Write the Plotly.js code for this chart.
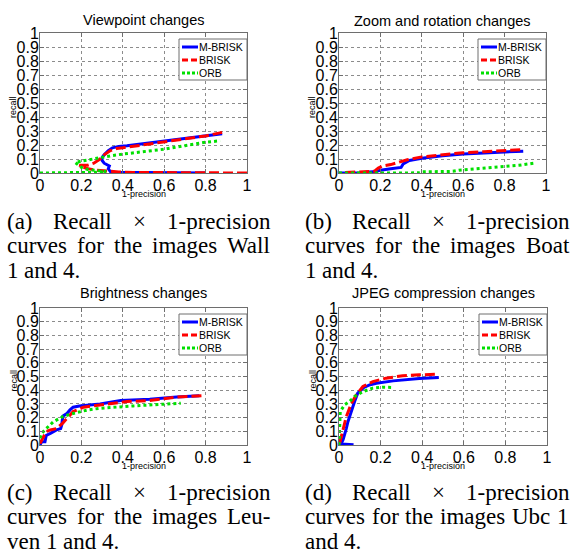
<!DOCTYPE html>
<html>
<head>
<meta charset="utf-8">
<script src="https://cdn.plot.ly/plotly-3.0.1.min.js"></script>
<style>html,body{margin:0;padding:0;background:#fff;}#chart{width:572px;height:554px;}</style>
</head>
<body>
<div id="chart"></div>
<script>
// ---------- data ----------
const seriesNames = ["M-BRISK", "BRISK", "ORB"];
const panelTitles = ["Viewpoint changes", "Zoom and rotation changes", "Brightness changes", "JPEG compression changes"];
const xTickVals = [0, 0.2, 0.4, 0.6, 0.8, 1];
const yTickVals = [0, 0.1, 0.2, 0.3, 0.4, 0.5, 0.6, 0.7, 0.8, 0.9, 1];
const xAxisLabel = "1-precision";
const yAxisLabel = "recall";

// (a) Viewpoint (Wall 1 and 4)
const wallMBriskX = [0.8, 0.6, 0.45, 0.36, 0.34, 0.33, 0.335, 0.32, 0.31, 0.30, 0.30, 0.31, 0.33, 0.35, 0.38, 0.42, 0.5, 0.55, 0.6, 0.7, 0.8, 0.88];
const wallMBriskY = [0, 0.001, 0.002, 0.005, 0.01, 0.03, 0.05, 0.06, 0.07, 0.09, 0.11, 0.13, 0.16, 0.18, 0.19, 0.195, 0.21, 0.22, 0.23, 0.245, 0.265, 0.28];
const wallBriskX = [1.0, 0.8, 0.6, 0.45, 0.38, 0.32, 0.27, 0.22, 0.19, 0.23, 0.26, 0.29, 0.31, 0.34, 0.37, 0.4, 0.5, 0.6, 0.7, 0.8, 0.88];
const wallBriskY = [0, 0, 0.002, 0.004, 0.008, 0.012, 0.02, 0.035, 0.055, 0.055, 0.07, 0.1, 0.13, 0.16, 0.175, 0.18, 0.2, 0.225, 0.245, 0.265, 0.29];
const wallOrbX = [0, 0.1, 0.2, 0.27, 0.32, 0.28, 0.23, 0.2, 0.18, 0.17, 0.2, 0.25, 0.3, 0.35, 0.4, 0.5, 0.6, 0.7, 0.8, 0.87];
const wallOrbY = [0, 0, 0.001, 0.005, 0.01, 0.015, 0.025, 0.04, 0.06, 0.075, 0.085, 0.1, 0.115, 0.125, 0.135, 0.15, 0.17, 0.195, 0.22, 0.23];

// (b) Zoom and rotation (Boat 1 and 4)
const boatMBriskX = [0, 0.1, 0.18, 0.2, 0.25, 0.3, 0.31, 0.34, 0.4, 0.5, 0.6, 0.7, 0.8, 0.89];
const boatMBriskY = [0, 0.002, 0.01, 0.02, 0.03, 0.04, 0.065, 0.09, 0.105, 0.123, 0.135, 0.145, 0.15, 0.155];
const boatBriskX = [0.03, 0.1, 0.17, 0.19, 0.21, 0.25, 0.3, 0.33, 0.4, 0.5, 0.6, 0.7, 0.8, 0.89];
const boatBriskY = [0.004, 0.006, 0.012, 0.035, 0.05, 0.06, 0.08, 0.095, 0.115, 0.13, 0.145, 0.152, 0.16, 0.168];
const boatOrbX = [0, 0.2, 0.39, 0.4, 0.5, 0.55, 0.58, 0.7, 0.8, 0.87, 0.94];
const boatOrbY = [0, 0, 0.001, 0.008, 0.009, 0.012, 0.02, 0.033, 0.045, 0.055, 0.07];

// (c) Brightness (Leuven 1 and 4)
const leuvenMBriskX = [0, 0.008, 0.024, 0.03, 0.05, 0.08, 0.10, 0.105, 0.11, 0.13, 0.145, 0.16, 0.19, 0.29, 0.39, 0.53, 0.66, 0.77];
const leuvenMBriskY = [0, 0.024, 0.024, 0.07, 0.085, 0.11, 0.12, 0.146, 0.21, 0.23, 0.256, 0.276, 0.285, 0.30, 0.324, 0.334, 0.35, 0.36];
const leuvenBriskX = [0, 0.016, 0.03, 0.05, 0.08, 0.11, 0.13, 0.16, 0.21, 0.29, 0.42, 0.53, 0.66, 0.78];
const leuvenBriskY = [0.01, 0.06, 0.098, 0.11, 0.12, 0.16, 0.195, 0.244, 0.276, 0.293, 0.317, 0.324, 0.35, 0.36];
const leuvenOrbX = [0, 0.008, 0.03, 0.065, 0.11, 0.16, 0.23, 0.29, 0.45, 0.61, 0.68];
const leuvenOrbY = [0.05, 0.085, 0.12, 0.17, 0.207, 0.23, 0.256, 0.268, 0.285, 0.298, 0.305];

// (d) JPEG compression (Ubc 1 and 4)
const ubcMBriskX = [0.07, 0.04, 0.01, 0.02, 0.027, 0.035, 0.043, 0.06, 0.075, 0.09, 0.12, 0.15, 0.18, 0.26, 0.32, 0.386, 0.48];
const ubcMBriskY = [0.002, 0.006, 0.008, 0.04, 0.073, 0.12, 0.17, 0.256, 0.317, 0.378, 0.42, 0.44, 0.45, 0.468, 0.478, 0.485, 0.493];
const ubcBriskX = [0.003, 0.02, 0.035, 0.06, 0.083, 0.115, 0.163, 0.226, 0.306, 0.386, 0.48];
const ubcBriskY = [0.012, 0.11, 0.207, 0.305, 0.366, 0.427, 0.463, 0.488, 0.505, 0.512, 0.517];
const ubcOrbX = [0, 0.003, 0.006, 0.027, 0.05, 0.075, 0.115, 0.163, 0.21, 0.26];
const ubcOrbY = [0, 0.195, 0.244, 0.293, 0.317, 0.354, 0.39, 0.415, 0.422, 0.42];

// captions
const captionA = ["(a) Recall × 1-precision", "curves for the images Wall", "1 and 4."];
const captionB = ["(b) Recall × 1-precision", "curves for the images Boat", "1 and 4."];
const captionC = ["(c) Recall × 1-precision", "curves for the images Leu-", "ven 1 and 4."];
const captionD = ["(d) Recall × 1-precision", "curves for the images Ubc 1", "and 4."];

// ---------- layout constants ----------
const W = 572, H = 554;
const SANS = "Liberation Sans, Arial, sans-serif";
const SERIF = "Liberation Serif, Times New Roman, serif";
const colors = ["#0000ff", "#ff0000", "#00e000"];
const dashes = ["solid", "10px,4px", "3px,3px"];
const panels = [
  {l: 40, r: 247, t: 33, b: 173, titleY: 20, xs: [wallMBriskX, wallBriskX, wallOrbX], ys: [wallMBriskY, wallBriskY, wallOrbY], cap: captionA, capX0: 7, capX1: 270, capY: 221},
  {l: 339, r: 546, t: 33, b: 173, titleY: 21, xs: [boatMBriskX, boatBriskX, boatOrbX], ys: [boatMBriskY, boatBriskY, boatOrbY], cap: captionB, capX0: 305, capX1: 569, capY: 221},
  {l: 40, r: 247, t: 308, b: 445, titleY: 293, xs: [leuvenMBriskX, leuvenBriskX, leuvenOrbX], ys: [leuvenMBriskY, leuvenBriskY, leuvenOrbY], cap: captionC, capX0: 7, capX1: 270, capY: 492},
  {l: 339, r: 547, t: 308, b: 445, titleY: 293, xs: [ubcMBriskX, ubcBriskX, ubcOrbX], ys: [ubcMBriskY, ubcBriskY, ubcOrbY], cap: captionD, capX0: 305, capX1: 569, capY: 492}
];
const capLineGap = 24.5;
const PX = x => x / W;
const PY = y => 1 - y / H;

const canvas = document.createElement("canvas");
const ctx = canvas.getContext("2d");
ctx.font = '23px "Liberation Serif"';
const measure = s => ctx.measureText(s).width;

const traces = [];
const annotations = [];
const shapes = [];
const layout = {
  width: W, height: H,
  margin: {l: 0, r: 0, t: 0, b: 0},
  paper_bgcolor: "#fff", plot_bgcolor: "#fff",
  showlegend: false,
  font: {family: SANS, color: "#000"}
};

panels.forEach((p, i) => {
  const k = i === 0 ? "" : String(i + 1);
  const axBase = {
    range: [0, 1], showgrid: true, gridcolor: "#8c8c8c", griddash: "dot", gridwidth: 1,
    showline: true, linecolor: "#6e6e6e", linewidth: 1, mirror: "ticks",
    ticks: "inside", ticklen: 4, tickcolor: "#6e6e6e", zeroline: false,
    tickfont: {family: SANS, size: 16, color: "#000"}, fixedrange: true
  };
  layout["xaxis" + k] = Object.assign({}, axBase, {
    domain: [PX(p.l), PX(p.r)], anchor: "y" + k, tickmode: "array", tickvals: xTickVals,
    ticktext: xTickVals.map(String), ticklabelstandoff: -2
  });
  layout["yaxis" + k] = Object.assign({}, axBase, {
    domain: [PY(p.b), PY(p.t)], anchor: "x" + k, tickmode: "array", tickvals: yTickVals,
    ticktext: yTickVals.map(String), ticklabelstandoff: -3
  });

  for (let s = 0; s < 3; s++) {
    traces.push({
      type: "scatter", mode: "lines", name: seriesNames[s],
      x: p.xs[s], y: p.ys[s], xaxis: "x" + k, yaxis: "y" + k,
      line: {color: colors[s], width: 3, dash: dashes[s]}, showlegend: false
    });
  }

  // panel title
  annotations.push({xref: "paper", yref: "paper", x: PX((p.l + p.r) / 2), y: PY(p.titleY),
    xanchor: "center", yanchor: "middle", showarrow: false, text: panelTitles[i],
    font: {family: SANS, size: 14.5, color: "#000"}});
  // axis labels
  annotations.push({xref: "paper", yref: "paper", x: PX((p.l + p.r) / 2), y: PY(p.b + 21),
    xanchor: "center", yanchor: "middle", showarrow: false, text: xAxisLabel,
    font: {family: SANS, size: 9, color: "#000"}, borderpad: 0, borderwidth: 0});
  annotations.push({xref: "paper", yref: "paper", x: PX(p.l - 27), y: PY((p.t + p.b) / 2 + 4),
    xanchor: "center", yanchor: "middle", showarrow: false, text: yAxisLabel, textangle: -90,
    font: {family: SANS, size: 9, color: "#000"}, borderpad: 0, borderwidth: 0});

  // legend box
  const lx0 = p.r - 68, lx1 = p.r, ly0 = p.t + 6, ly1 = p.t + 47;
  shapes.push({type: "rect", xref: "paper", yref: "paper", x0: PX(lx0), x1: PX(lx1), y0: PY(ly1), y1: PY(ly0),
    fillcolor: "#fff", line: {color: "#6e6e6e", width: 1}, layer: "above"});
  for (let s = 0; s < 3; s++) {
    const ey = p.t + 14 + 13 * s;
    shapes.push({type: "line", xref: "paper", yref: "paper", x0: PX(p.r - 65), x1: PX(p.r - 49), y0: PY(ey), y1: PY(ey),
      line: {color: colors[s], width: 3, dash: s === 0 ? "solid" : (s === 1 ? "6px,3px" : "3px,2px")}, layer: "above"});
    annotations.push({xref: "paper", yref: "paper", x: PX(p.r - 48), y: PY(ey), xanchor: "left", yanchor: "middle",
      showarrow: false, text: seriesNames[s], font: {family: SANS, size: 10.5, color: "#000"}, borderpad: 0, borderwidth: 0});
  }

  // caption (justified)
  p.cap.forEach((line, li) => {
    const words = line.split(" ");
    const widths = words.map(measure);
    const total = widths.reduce((a, b) => a + b, 0);
    const justify = li < p.cap.length - 1 && words.length > 1;
    const gap = justify ? (p.capX1 - p.capX0 - total) / (words.length - 1) : measure(" ");
    let x = p.capX0;
    const yc = p.capY + li * capLineGap;
    words.forEach((w, wi) => {
      annotations.push({xref: "paper", yref: "paper", x: PX(x), y: PY(yc), xanchor: "left", yanchor: "middle",
        showarrow: false, text: w, font: {family: SERIF, size: 23, color: "#000"}, borderpad: 0, borderwidth: 0});
      x += widths[wi] + gap;
    });
  });
});

layout.annotations = annotations;
layout.shapes = shapes;
Plotly.newPlot("chart", traces, layout, {staticPlot: true, displayModeBar: false});
</script>
</body>
</html>
